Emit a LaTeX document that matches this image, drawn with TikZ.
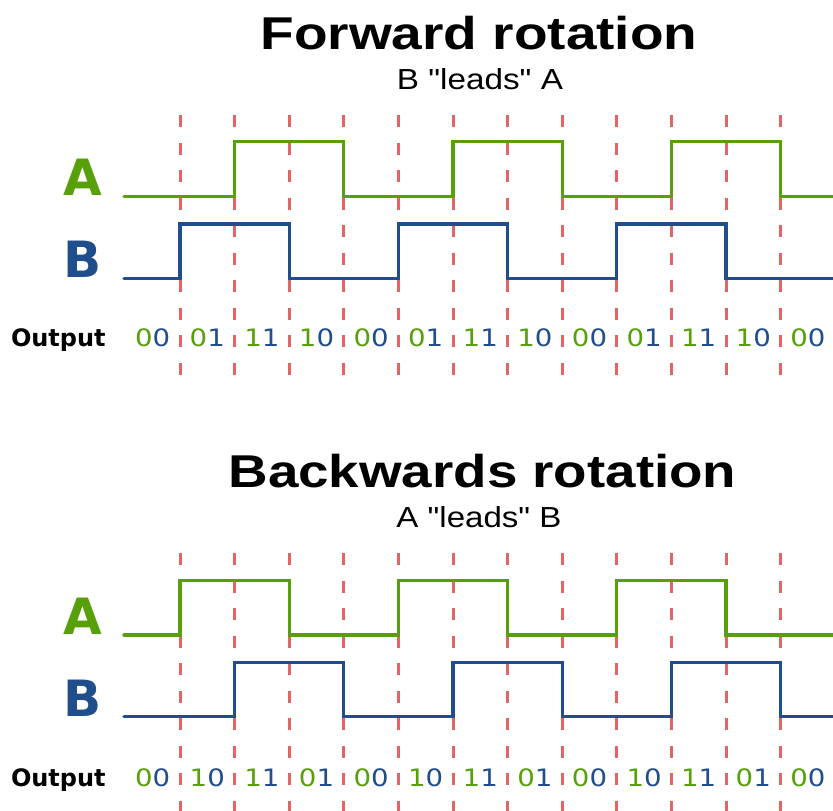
\documentclass[tikz,border=0pt]{standalone}
\usepackage{fontspec}
\usepackage{graphicx}
\newfontfamily\titlefont{Liberation Sans}
\newfontfamily\dvfont{DejaVu Sans}
\definecolor{sigA}{RGB}{88,160,10}
\definecolor{sigB}{RGB}{32,78,140}
\definecolor{tickred}{RGB}{228,100,100}
\newcommand{\bitpair}[2]{\scalebox{1.15}[1]{\textcolor{sigA}{#1}\textcolor{sigB}{#2}}}
\begin{document}
\begin{tikzpicture}[x=1pt,y=-1pt,
  every node/.style={inner sep=0pt, outer sep=0pt},
  titletext/.style={anchor=base, font=\titlefont\bfseries\fontsize{46pt}{50pt}\selectfont},
  subtext/.style={anchor=base, font=\titlefont\fontsize{29pt}{32pt}\selectfont},
  chanlabel/.style={anchor=base east, font=\dvfont\bfseries\fontsize{50pt}{54pt}\selectfont},
  outlabel/.style={anchor=base west, font=\dvfont\bfseries\fontsize{24pt}{28pt}\selectfont},
  codetext/.style={anchor=base, font=\dvfont\fontsize{24pt}{28pt}\selectfont},
  tickline/.style={draw=tickred, line width=3pt, dash pattern=on 12.3pt off 15.2pt},
  sigline/.style={line width=3.3pt, line cap=round, line join=miter},
]
\useasboundingbox (0,0) rectangle (833,811);
\fill[white] (0,0) rectangle (833,811);

% ---------- Forward rotation ----------
\node[titletext] (ftitle) at (479,49) {\resizebox{437pt}{\height}{Forward rotation}};
\node[subtext] (fsub) at (480,89.3) {\resizebox{166pt}{\height}{B "leads" A}};

\foreach \k in {0,...,11}
  \draw[tickline] ({180+54.6*\k},115) -- ({180+54.6*\k},375);

\draw[sigline, sigA] (124,196.7) -- (234.6,196.7) -- (234.6,141.7) -- (343.8,141.7)
  -- (343.8,196.7) -- (453,196.7) -- (453,141.7) -- (562.2,141.7) -- (562.2,196.7)
  -- (671.4,196.7) -- (671.4,141.7) -- (780.6,141.7) -- (780.6,196.7) -- (836,196.7);
\draw[sigline, sigB] (124,278.3) -- (180,278.3) -- (180,224) -- (289.2,224)
  -- (289.2,278.3) -- (398.4,278.3) -- (398.4,224) -- (507.6,224) -- (507.6,278.3)
  -- (616.8,278.3) -- (616.8,224) -- (726,224) -- (726,278.3) -- (836,278.3);

\node[chanlabel, text=sigA] (fA) at (102,195) {A};
\node[chanlabel, text=sigB] (fB) at (102,277.3) {B};
\node[outlabel] (fout) at (11,346) {Output};
\foreach \a/\b [count=\k from 0] in {0/0,0/1,1/1,1/0,0/0,0/1,1/1,1/0,0/0,0/1,1/1,1/0,0/0}
  \node[codetext] (fc\k) at ({152.7+54.6*\k},346) {\bitpair{\a}{\b}};

% ---------- Backwards rotation ----------
\node[titletext] (btitle) at (482.5,487) {\resizebox{508pt}{\height}{Backwards rotation}};
\node[subtext] (bsub) at (479,527.3) {\resizebox{165pt}{\height}{A "leads" B}};

\foreach \k in {0,...,11}
  \draw[tickline] ({180+54.6*\k},553) -- ({180+54.6*\k},813);

\draw[sigline, sigA] (124,635) -- (180,635) -- (180,580.7) -- (289.2,580.7)
  -- (289.2,635) -- (398.4,635) -- (398.4,580.7) -- (507.6,580.7) -- (507.6,635)
  -- (616.8,635) -- (616.8,580.7) -- (726,580.7) -- (726,635) -- (836,635);
\draw[sigline, sigB] (124,716.7) -- (234.6,716.7) -- (234.6,662.7) -- (343.8,662.7)
  -- (343.8,716.7) -- (453,716.7) -- (453,662.7) -- (562.2,662.7) -- (562.2,716.7)
  -- (671.4,716.7) -- (671.4,662.7) -- (780.6,662.7) -- (780.6,716.7) -- (836,716.7);

\node[chanlabel, text=sigA] (bA) at (102,634) {A};
\node[chanlabel, text=sigB] (bB) at (102,716) {B};
\node[outlabel] (bout) at (11,786) {Output};
\foreach \a/\b [count=\k from 0] in {0/0,1/0,1/1,0/1,0/0,1/0,1/1,0/1,0/0,1/0,1/1,0/1,0/0}
  \node[codetext] (bc\k) at ({152.7+54.6*\k},786) {\bitpair{\a}{\b}};
\end{tikzpicture}
\end{document}
